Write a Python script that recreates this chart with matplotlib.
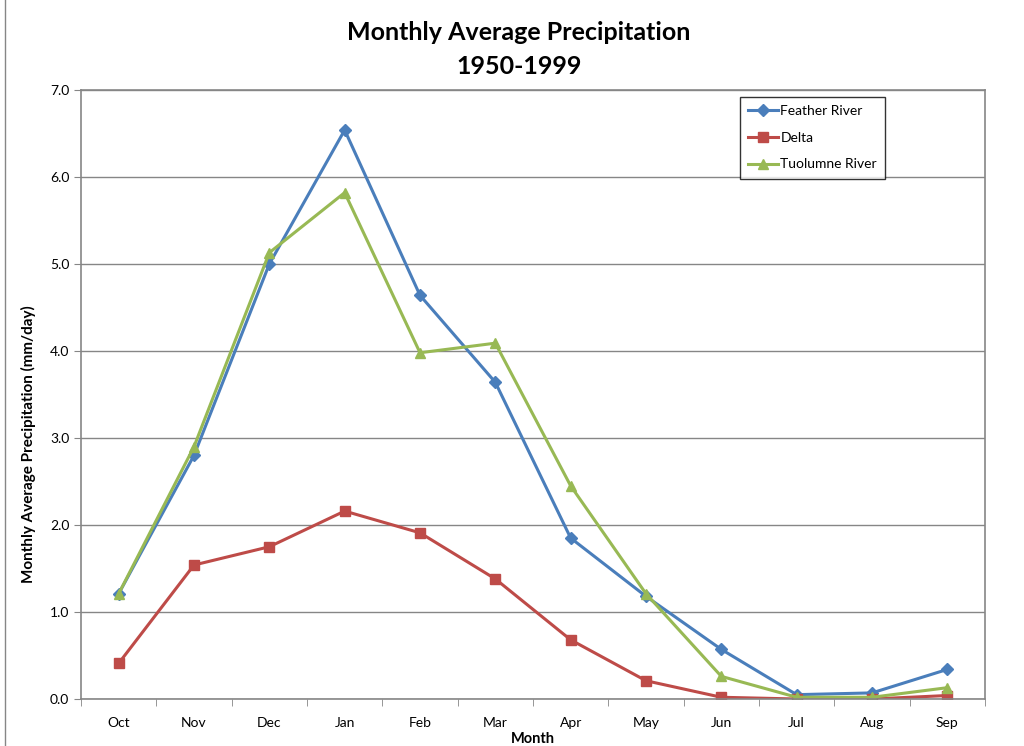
import matplotlib.pyplot as plt
import numpy as np
from matplotlib.patches import Rectangle

plt.rcParams['font.family'] = ['Lato', 'DejaVu Sans']

months = ['Oct', 'Nov', 'Dec', 'Jan', 'Feb', 'Mar', 'Apr', 'May', 'Jun', 'Jul', 'Aug', 'Sep']
feather = [1.21, 2.80, 5.00, 6.54, 4.64, 3.64, 1.85, 1.18, 0.57, 0.05, 0.07, 0.34]
delta = [0.41, 1.54, 1.75, 2.16, 1.91, 1.38, 0.68, 0.21, 0.02, 0.00, 0.00, 0.04]
tuolumne = [1.21, 2.90, 5.13, 5.82, 3.98, 4.09, 2.45, 1.21, 0.26, 0.02, 0.02, 0.13]

fig = plt.figure(figsize=(10.24, 7.46), dpi=100)
ax = fig.add_axes([81/1024, 1-699/746, 904/1024, 609/746])

x = np.arange(len(months))
ax.plot(x, feather, color='#4a7ebb', lw=2.2, marker='D', ms=6, label='Feather River')
ax.plot(x, delta, color='#be4b48', lw=2.2, marker='s', ms=7, label='Delta')
ax.plot(x, tuolumne, color='#98b954', lw=2.2, marker='^', ms=7.5, label='Tuolumne River')

ax.set_xlim(-0.5, 11.5)
ax.set_ylim(0, 7)
ax.set_yticks(np.arange(0, 7.01, 1.0))
ax.set_yticklabels([f'{v:.1f}' for v in np.arange(0, 7.01, 1.0)], fontsize=10)
ax.set_xticks(x)
ax.set_xticklabels(months, fontsize=10)
ax.set_xticks(np.arange(-0.5, 12, 1), minor=True)
ax.tick_params(axis='x', which='major', length=0, pad=13)
ax.tick_params(axis='x', which='minor', length=5, color='#868686', direction='out')
ax.tick_params(axis='y', length=5, color='#868686', direction='out')
ax.grid(axis='y', color='#868686', lw=1)
ax.set_axisbelow(True)
for s in ax.spines.values():
    s.set_color('#868686')
    s.set_linewidth(1.2)

ax.set_ylabel('Monthly Average Precipitation (mm/day)', fontsize=11, fontweight='bold')
ax.yaxis.set_label_coords(-0.05, 0.418)
ax.set_xlabel('Month', fontsize=10.5, fontweight='bold', labelpad=2)

fig.text(519/1024, 1-32/746, 'Monthly Average Precipitation', ha='center', va='center',
         fontsize=18, fontweight='bold')
fig.text(519/1024, 1-67/746, '1950-1999', ha='center', va='center',
         fontsize=18, fontweight='bold')

leg = ax.legend(loc='upper left', bbox_to_anchor=(659/904, 1-7/609), fontsize=10,
                frameon=True, fancybox=False, borderaxespad=0, handlelength=2.1,
                labelspacing=1.05, borderpad=0.6, handletextpad=0.2)
leg.get_frame().set_edgecolor('black')
leg.get_frame().set_linewidth(1)

fig.patches.append(Rectangle((5/1024, -0.01), 1.02, 1.02, transform=fig.transFigure,
                             fill=False, edgecolor='#868686', lw=1))

fig.savefig('out.png', dpi=100)
